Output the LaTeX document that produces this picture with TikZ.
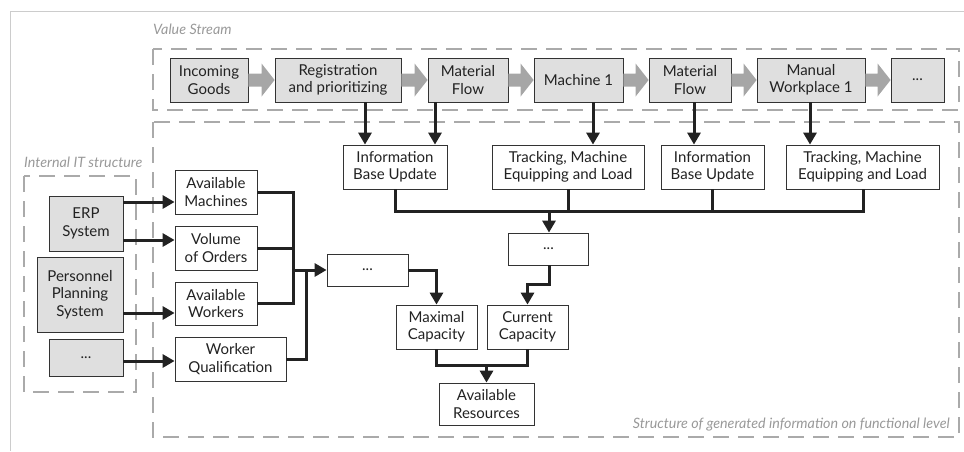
\documentclass[tikz,border=0pt]{standalone}
\usepackage{fontspec}
\setmainfont{Lato}
\usetikzlibrary{arrows.meta,calc}
\definecolor{boxfill}{HTML}{DFDFDF}
\definecolor{boxline}{HTML}{333333}
\definecolor{dashgray}{HTML}{AAAAAA}
\definecolor{labelgray}{HTML}{999999}
\definecolor{arrgray}{HTML}{A6A6A6}
\definecolor{conncol}{HTML}{222222}
\definecolor{framegray}{HTML}{CCCCCC}
\tikzset{
  basebox/.style={draw=boxline, line width=0.8pt, inner sep=0pt, align=center,
    text=conncol, font=\fontsize{15}{17.5}\selectfont},
  gbox/.style={basebox, fill=boxfill},
  wbox/.style={basebox, fill=white},
  dashbox/.style={draw=dashgray, line width=2.5pt, dash pattern=on 16pt off 9pt},
  conn/.style={draw=conncol, line width=3pt},
  connarr/.style={conn, -{Triangle[width=13pt,length=12pt]}},
  grouplabel/.style={text=labelgray, font=\fontsize{14.3}{16}\selectfont\itshape, inner sep=0pt}
}
\newcommand{\blockarrow}[2]{%
  \fill[arrgray] let \p1=(#1.east), \p2=(#2.west) in
    (\x1,\y1+6.5pt) -- (\x2-13pt,\y1+6.5pt) -- (\x2-13pt,\y1+16.5pt) -- (\x2,\y1)
    -- (\x2-13pt,\y1-16.5pt) -- (\x2-13pt,\y1-6.5pt) -- (\x1,\y1-6.5pt) -- cycle;}
\begin{document}
\begin{tikzpicture}[x=1pt,y=-1pt]
\useasboundingbox (0,0) rectangle (964,451);
\draw[framegray, line width=0.8pt] (964,11) -- (10,11) -- (10,451);

% group frames
\draw[dashbox] (153,49) rectangle (959,110);
\draw[dashbox] (153,122) rectangle (959,437);
\draw[dashbox] (24,176) rectangle (136,392);
\node[grouplabel, anchor=west] (lvs) at (153,29) {Value Stream};
\node[grouplabel, anchor=west] (lit) at (24,162) {Internal IT structure};
\node[grouplabel, anchor=east] (lfl) at (950,425) {Structure of generated information on functional level};

% value stream
\node[gbox, minimum width=78, minimum height=44] (inc) at (209,80) {Incoming\\Goods};
\node[gbox, minimum width=126, minimum height=44] (reg) at (338,80) {Registration\\and prioritizing};
\node[gbox, minimum width=80, minimum height=44] (mf1) at (468,80) {Material\\Flow};
\node[gbox, minimum width=89, minimum height=44] (m1) at (578.5,80) {Machine 1};
\node[gbox, minimum width=82, minimum height=44] (mf2) at (690,80) {Material\\Flow};
\node[gbox, minimum width=108, minimum height=44] (mw1) at (811,80) {Manual\\Workplace 1};
\node[gbox, minimum width=53, minimum height=44] (vdots) at (917.5,80) {...};
\blockarrow{inc}{reg}
\blockarrow{reg}{mf1}
\blockarrow{mf1}{m1}
\blockarrow{m1}{mf2}
\blockarrow{mf2}{mw1}
\blockarrow{mw1}{vdots}

% information row
\node[wbox, minimum width=104, minimum height=44] (ib1) at (395,167) {Information\\Base Update};
\node[wbox, minimum width=152, minimum height=44] (tr1) at (568,167) {Tracking, Machine\\Equipping and Load};
\node[wbox, minimum width=103, minimum height=44] (ib2) at (712.5,167) {Information\\Base Update};
\node[wbox, minimum width=153, minimum height=44] (tr2) at (862.5,167) {Tracking, Machine\\Equipping and Load};

\draw[connarr] (reg.south -| 365,0) -- (ib1.north -| 365,0);
\draw[connarr] (mf1.south -| 435,0) -- (ib1.north -| 435,0);
\draw[connarr] (m1.south -| 593,0) -- (tr1.north -| 593,0);
\draw[connarr] (mf2.south -| 694,0) -- (ib2.north -| 694,0);
\draw[connarr] (mw1.south -| 810,0) -- (tr2.north -| 810,0);

% bus
\coordinate (busL) at (395,211);
\coordinate (busR) at (863,211);
\coordinate (busM) at (549,211);
\draw[conn, line join=miter] (ib1.south) -- (busL) -- (busR) -- (tr2.south -| busR);
\draw[conn] (tr1.south) -- (tr1.south |- busL);
\draw[conn] (ib2.south) -- (ib2.south |- busL);

\node[wbox, minimum width=80, minimum height=32] (dots2) at (548.5,249) {...};
\draw[connarr] (busM) -- (dots2.north -| busM);

\node[wbox, minimum width=81, minimum height=44] (cur) at (527.5,327) {Current\\Capacity};
\node[wbox, minimum width=81, minimum height=44] (maxc) at (436.5,327) {Maximal\\Capacity};
\node[wbox, minimum width=81, minimum height=32] (dots1) at (367.5,270) {...};
\node[wbox, minimum width=95, minimum height=42] (avr) at (486.5,404) {Available\\Resources};

\draw[connarr, line join=miter] (dots2.south -| busM) -- (549,284) -- (527.5,284) -- (cur.north);
\draw[connarr, line join=miter] (dots1.east) -- (maxc.north |- dots1.east) -- (maxc.north);
\draw[conn, line join=miter] (maxc.south) -- (436.5,365) -- (527.5,365) -- (cur.south);
\draw[connarr] (avr.north |- 0,365) -- (avr.north);

% left column
\node[wbox, minimum width=82, minimum height=44] (am) at (216,192) {Available\\Machines};
\node[wbox, minimum width=82, minimum height=44] (vo) at (216,248) {Volume\\of Orders};
\node[wbox, minimum width=82, minimum height=43] (aw) at (216,303.5) {Available\\Workers};
\node[wbox, minimum width=111, minimum height=44] (wq) at (230.5,359) {Worker\\Qualification};

\coordinate (jx) at (293,270);
\draw[conn, line join=miter] (am.east) -- (am.east -| jx) -- (aw.east -| jx) -- (aw.east);
\draw[conn] (vo.east) -- (vo.east -| jx);
\draw[connarr] (jx) -- (dots1.west);
\draw[conn, line join=miter] (wq.east) -- (306,359) -- (306,270);

% IT systems
\node[gbox, minimum width=74, minimum height=55] (erp) at (86,223.5) {ERP\\System};
\node[gbox, minimum width=86, minimum height=75] (pps) at (80,294.5) {Personnel\\Planning\\System};
\node[gbox, minimum width=74, minimum height=37] (dots3) at (86,357.5) {...};

\draw[connarr] (erp.east |- 0,202) -- (am.west |- 0,202);
\draw[connarr] (erp.east |- 0,240) -- (vo.west |- 0,240);
\draw[connarr] (pps.east |- 0,313) -- (aw.west |- 0,313);
\draw[connarr] (dots3.east |- 0,361) -- (wq.west |- 0,361);
\end{tikzpicture}
\end{document}
